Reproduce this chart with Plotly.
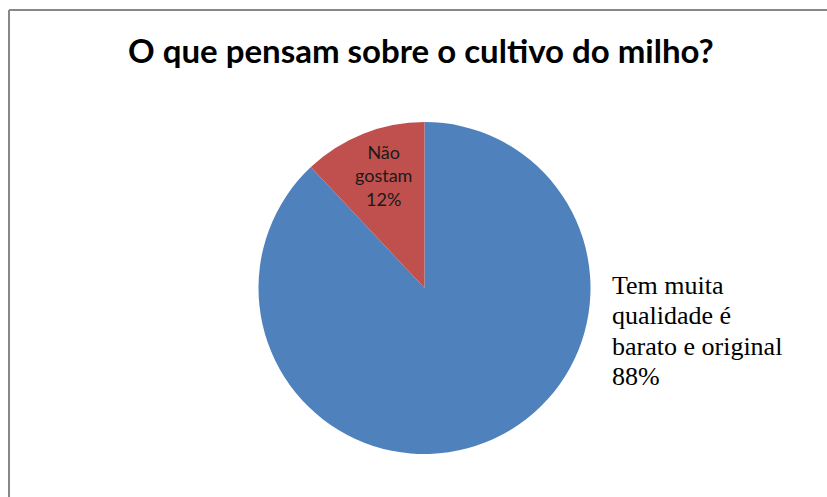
import plotly.graph_objects as go

W, H = 827, 497

title_text = "O que pensam sobre o cultivo do milho?"
labels = ["Tem muita qualidade é barato e original", "Não gostam"]
values = [88, 12]
colors = ["#4F81BD", "#C0504D"]
# how each label is wrapped in the picture
label_lines = [["Tem muita", "qualidade é", "barato e original"], ["Não", "gostam"]]

# pie geometry (pixels)
cx, cy, r = 424.5, 288.0, 166.0

fig = go.Figure(
    go.Pie(
        labels=labels,
        values=values,
        sort=False,
        direction="clockwise",
        rotation=0,
        marker=dict(colors=colors, line=dict(width=0)),
        textinfo="none",
        showlegend=False,
        hoverinfo="label+percent",
        domain=dict(
            x=[(cx - r) / W, (cx + r) / W],
            y=[(H - cy - r) / H, (H - cy + r) / H],
        ),
    )
)

annotations = []

# label inside the small slice
annotations.append(
    dict(
        text="<br>".join(label_lines[1] + [f"{values[1]}%"]),
        x=383 / W,
        y=1 - 175 / H,
        xref="paper",
        yref="paper",
        xanchor="center",
        yanchor="middle",
        align="center",
        showarrow=False,
        font=dict(family="Lato, Open Sans, sans-serif", size=18, color="#1a1a1a"),
    )
)

# outside label for the large slice, one annotation per line
outside_lines = label_lines[0] + [f"{values[0]}%"]
x_left = 610
y_first = 285
spacing = 30.5
for i, line in enumerate(outside_lines):
    annotations.append(
        dict(
            text=line,
            x=x_left / W,
            y=1 - (y_first + i * spacing) / H,
            xref="paper",
            yref="paper",
            xanchor="left",
            yanchor="middle",
            showarrow=False,
            font=dict(family="Liberation Serif, Times New Roman, serif", size=26, color="black"),
        )
    )

# title
annotations.append(
    dict(
        text=f"<b>{title_text}</b>",
        x=421 / W,
        y=1 - 50 / H,
        xref="paper",
        yref="paper",
        xanchor="center",
        yanchor="middle",
        showarrow=False,
        font=dict(family="Lato, Open Sans, sans-serif", size=33, color="black"),
    )
)

frame_color = "#878787"
shapes = [
    dict(type="line", xref="paper", yref="paper",
         x0=9 / W, x1=1, y0=1 - 10 / H, y1=1 - 10 / H,
         line=dict(color=frame_color, width=2)),
    dict(type="line", xref="paper", yref="paper",
         x0=9 / W, x1=9 / W, y0=0, y1=1 - 10 / H,
         line=dict(color=frame_color, width=2)),
]

fig.update_layout(
    width=W,
    height=H,
    margin=dict(l=0, r=0, t=0, b=0),
    paper_bgcolor="white",
    plot_bgcolor="white",
    annotations=annotations,
    shapes=shapes,
)

fig.write_html("out.html")
